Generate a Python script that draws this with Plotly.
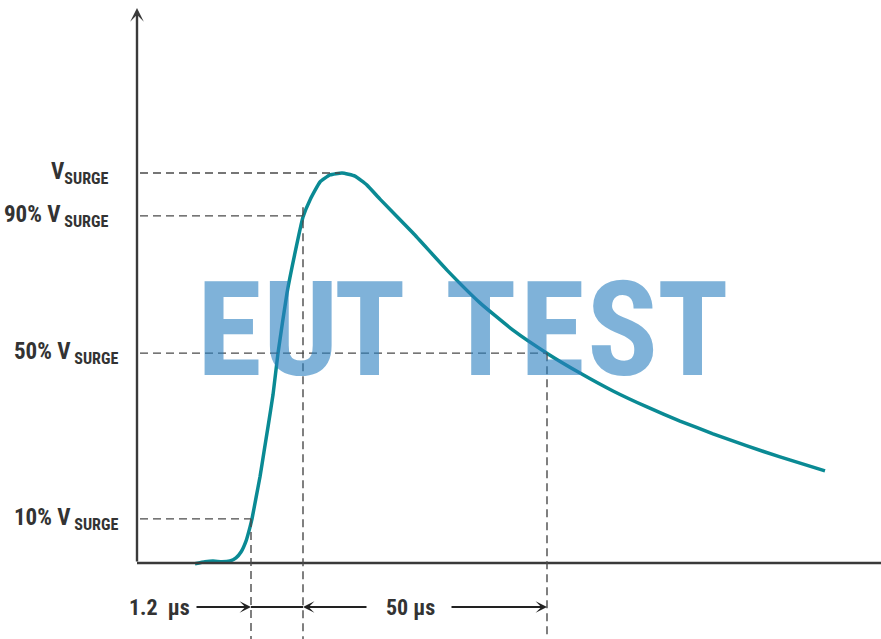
import plotly.graph_objects as go

# ---- data (time in arbitrary units, voltage normalised to V_SURGE) ----
t = [58, 68, 76, 85, 93, 99, 104, 109, 113, 115, 119, 123, 127, 131, 136, 141,
     150, 158, 166, 173, 183, 193, 205, 218, 230, 243, 276, 310, 343, 376, 411,
     443, 476, 510, 543, 576, 610, 643, 688]
v = [-0.002, 0.003, 0.005, 0.003, 0.005, 0.013, 0.028, 0.056, 0.092, 0.113, 0.167,
     0.221, 0.285, 0.349, 0.431, 0.538, 0.692, 0.795, 0.887, 0.931, 0.977, 0.995,
     1.0, 0.992, 0.969, 0.933, 0.846, 0.751, 0.667, 0.597, 0.536, 0.487, 0.441,
     0.400, 0.364, 0.331, 0.300, 0.272, 0.236]

level_labels = ["V<sub>SURGE</sub>", "90% V<sub> SURGE</sub>",
                "50% V<sub> SURGE</sub>", "10% V<sub> SURGE</sub>"]
level_values = [1.0, 0.89, 0.538, 0.113]
level_times = [203, 166, 410, 114]      # where each level meets the curve
label_right = [-27, -27, -17, -17]

t10, t90, t50 = 114, 166, 410
dim_y = -0.113

watermark = "EUTTEST"
watermark_x = [92, 163, 233, 344, 415, 485, 556]

X0, X1 = -137, 744
Y0, Y1 = -0.195, 1.4436

INK = "#333333"
AX = "#3a3a3a"
DASH = "#4a4a4a"
FONT = "Roboto Condensed, Liberation Sans Narrow, DejaVu Sans Condensed, sans-serif"

fig = go.Figure()
fig.add_trace(go.Scatter(x=t, y=v, mode="lines",
                         line=dict(color="#0a8a94", width=3.5, shape="spline", smoothing=0.4),
                         hoverinfo="skip", showlegend=False))

shapes = []
annotations = []

# axes
shapes.append(dict(type="line", xref="x", yref="y", x0=0, x1=X1, y0=0, y1=0,
                   line=dict(color=AX, width=2.5)))
annotations.append(dict(x=0, y=1.423, ax=0, ay=0, axref="x", ayref="y", xref="x", yref="y",
                        text="", showarrow=True, arrowhead=3, arrowwidth=2.4,
                        arrowsize=0.95, arrowcolor=AX))

# level guides + labels
for lab, lv, lt, lr in zip(level_labels, level_values, level_times, label_right):
    shapes.append(dict(type="line", xref="x", yref="y", x0=3, x1=lt, y0=lv, y1=lv,
                       line=dict(color=DASH, width=1.4, dash="8px,5px")))
    annotations.append(dict(x=lr, y=lv, xref="x", yref="y", text=lab, showarrow=False,
                            xanchor="right", yanchor="middle",
                            font=dict(family=FONT, size=23, color=INK, weight="bold")))

# vertical guides
for tx, top in [(t10, 0.113), (t90, 0.912), (t50, 0.538)]:
    shapes.append(dict(type="line", xref="x", yref="y", x0=tx, x1=tx, y0=top, y1=Y0,
                       line=dict(color=DASH, width=1.4, dash="8px,5px")))

# dimension arrows
def arrow(head, tail):
    annotations.append(dict(x=head, y=dim_y, ax=tail, ay=dim_y, axref="x", ayref="y",
                            xref="x", yref="y", text="", showarrow=True, arrowhead=3,
                            arrowwidth=2, arrowsize=0.95, arrowcolor="#222222"))

arrow(t10, 58)
shapes.append(dict(type="line", xref="x", yref="y", x0=t10, x1=t90, y0=dim_y, y1=dim_y,
                   line=dict(color="#222222", width=2)))
arrow(t90, 231)
arrow(t50, 313)
annotations.append(dict(x=22, y=dim_y, xref="x", yref="y", text="1.2\u00a0 µs", showarrow=False,
                        font=dict(family=FONT, size=22, color=INK, weight="bold")))
annotations.append(dict(x=273, y=dim_y, xref="x", yref="y", text="50 µs", showarrow=False,
                        font=dict(family=FONT, size=22, color=INK, weight="bold")))

# watermark
for ch, wx in zip(watermark, watermark_x):
    annotations.append(dict(x=wx, y=0.598, xref="x", yref="y", text=ch, showarrow=False,
                            opacity=0.6,
                            font=dict(family=FONT, size=132, color="#2b80c0", weight="bold")))

fig.update_layout(
    width=881, height=639,
    margin=dict(l=0, r=0, t=0, b=0),
    paper_bgcolor="white", plot_bgcolor="white",
    xaxis=dict(range=[X0, X1], visible=False, fixedrange=True),
    yaxis=dict(range=[Y0, Y1], visible=False, fixedrange=True),
    shapes=shapes, annotations=annotations, showlegend=False,
)

fig.write_html("out.html", config={"displayModeBar": False},
               post_script="document.body.style.margin='0px';document.body.style.overflow='hidden';")
